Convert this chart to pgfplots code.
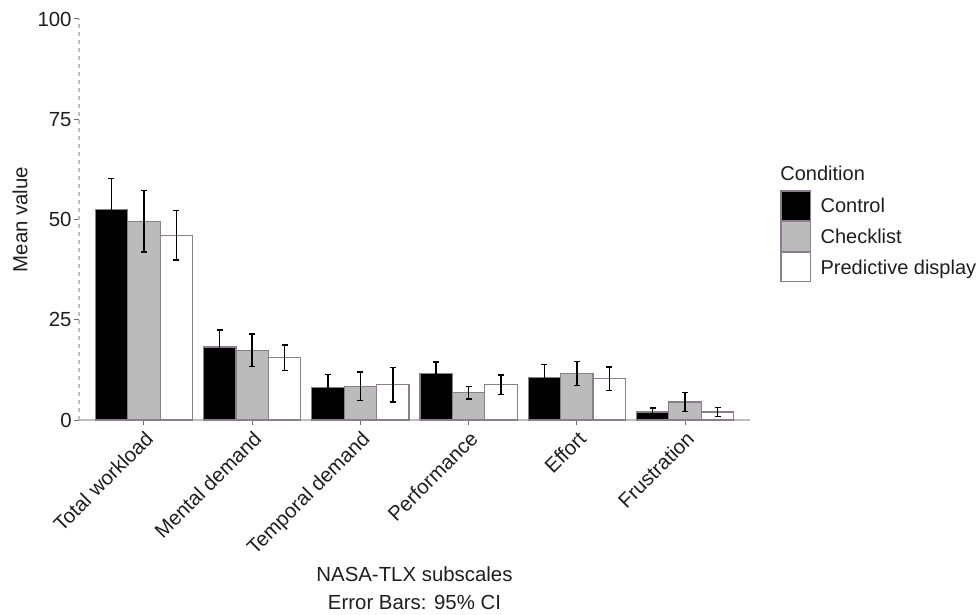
\documentclass[border=0pt]{standalone}
\usepackage{fontspec}
\setmainfont{Liberation Sans}
\usepackage{pgfplots}
\pgfplotsset{compat=1.18}
\definecolor{barline}{RGB}{138,126,140}
\definecolor{chk}{RGB}{187,187,187}
\definecolor{axgray}{RGB}{190,190,190}
\definecolor{tickgray}{RGB}{110,110,110}
\definecolor{txt}{RGB}{30,30,30}
\newcommand{\ff}{\fontsize{10.2}{12}\selectfont}
\newcommand{\lf}{\fontsize{10}{12}\selectfont}
\begin{document}
\begin{tikzpicture}
\useasboundingbox (-39.5pt,-97.5pt) rectangle (450pt,210pt);
\begin{axis}[
 at={(0pt,0pt)}, anchor=south west,
 scale only axis, width=335.5pt, height=200.5pt,
 xmin=-0.6, xmax=5.6, ymin=0, ymax=100,
 axis x line*=bottom, axis y line*=left,
 axis line style={-},
 x axis line style={axgray, line width=0.6pt},
 y axis line style={axgray, dash pattern=on 2pt off 2pt, line width=0.6pt},
 xtick={0,...,5},
 xticklabels={Total workload, Mental demand, Temporal demand, Performance, Effort, Frustration},
 ytick={0,25,50,75,100},
 tick align=outside, major tick length=2.5pt,
 tick style={tickgray, line width=0.5pt},
 /pgf/number format/assume math mode=true,
 tick label style={font=\ff, text=txt},
 x tick label style={rotate=45, anchor=north east, inner sep=1.5pt},
 y tick label style={inner sep=1pt},
 ylabel={Mean value},
 ylabel style={at={(axis description cs:-0.076,0.5)}, anchor=south, inner sep=0pt, font=\ff, text=txt},
 xlabel={NASA-TLX subscales\\Error Bars: 95\% CI},
 xlabel style={align=center, at={(axis description cs:0.5,-0.364)}, anchor=north, inner sep=0pt, font=\fontsize{10.2}{14}\selectfont, text=txt},
 legend cell align=left,
 legend style={at={(1.0447,0.5736)}, anchor=north west, draw=none, fill=none, inner sep=0pt, row sep=0pt,
   nodes={inner sep=0pt, text depth=0pt, font=\lf, text=txt}},
 legend image code/.code={\draw[#1,draw=barline,line width=0.6pt] (0pt,-7.375pt) rectangle (14.75pt,7.375pt); \path (19.5pt,0pt);},
 clip=false,
]
\addplot[ybar, bar width=0.3, bar shift=0, fill=black, draw=barline, line width=0.6pt,
  error bars/.cd, y dir=both, y explicit,
  error bar style={black, line width=0.7pt},
  error mark options={rotate=90, mark size=1.5pt, black, line width=0.7pt}]
 coordinates {(-0.3,52.5) +- (0,7.7) (0.7,18.2) +- (0,4.2) (1.7,8.1) +- (0,3.2) (2.7,11.6) +- (0,2.9) (3.7,10.6) +- (0,3.2) (4.7,2.0) +- (0,1.0)};
\addlegendentry{Control}
\addplot[ybar, bar width=0.3, bar shift=0, fill=chk, draw=barline, line width=0.6pt,
  error bars/.cd, y dir=both, y explicit,
  error bar style={black, line width=0.7pt},
  error mark options={rotate=90, mark size=1.5pt, black, line width=0.7pt}]
 coordinates {(0,49.6) +- (0,7.7) (1,17.4) +- (0,4.0) (2,8.4) +- (0,3.6) (3,6.8) +- (0,1.6) (4,11.6) +- (0,3.0) (5,4.5) +- (0,2.4)};
\addlegendentry{Checklist}
\addplot[ybar, bar width=0.3, bar shift=0, fill=white, draw=barline, line width=0.6pt,
  error bars/.cd, y dir=both, y explicit,
  error bar style={black, line width=0.7pt},
  error mark options={rotate=90, mark size=1.5pt, black, line width=0.7pt}]
 coordinates {(0.3,46.1) +- (0,6.2) (1.3,15.5) +- (0,3.2) (2.3,8.8) +- (0,4.3) (3.3,8.8) +- (0,2.4) (4.3,10.3) +- (0,2.9) (5.3,2.0) +- (0,1.1)};
\addlegendentry{Predictive display}
\end{axis}
\node[anchor=west, inner sep=0pt, font=\lf, text=txt] at (350.5pt,123.5pt) {Condition};
\end{tikzpicture}
\end{document}
